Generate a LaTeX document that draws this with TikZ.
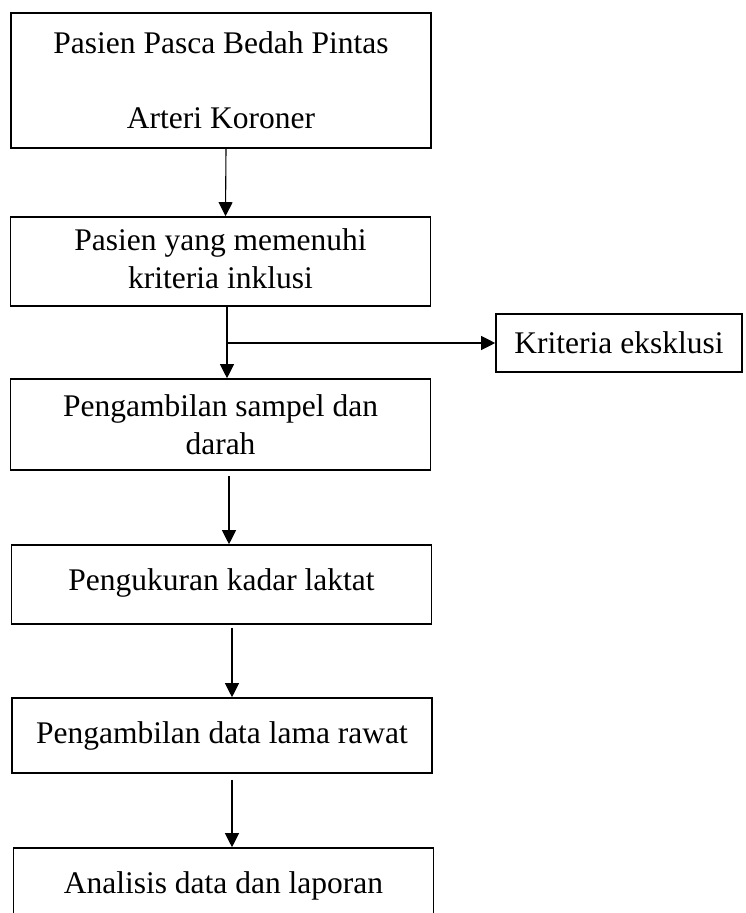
\documentclass[tikz,border=0pt]{standalone}
\usepackage{fontspec}
\setmainfont{Liberation Serif}
\usetikzlibrary{positioning,arrows.meta}

\begin{document}
\begin{tikzpicture}[
	x=1pt,y=-1pt,
	every node/.style={
		draw,
		line width=1.6pt,
		align=center,
		inner sep=0pt,
		font=\fontsize{31.5}{38}\selectfont
	},
	flowbox/.style={minimum width=420pt},
	arrow/.style={-{Triangle[length=14pt,width=14pt]},line width=1.1pt}
	]
	
	\useasboundingbox (0,0) rectangle (746,913);
	
	\node[flowbox,minimum height=135pt] (pasien) at (221,80.5) {Pasien Pasca Bedah Pintas\\[37pt]Arteri Koroner};
	\node[flowbox,minimum height=89pt] (inklusi) at (220.5,261.5) {\raisebox{-2pt}{\begin{tabular}{@{}c@{}}Pasien yang memenuhi\\kriteria inklusi\end{tabular}}};
	\node[minimum width=246pt,minimum height=58pt] (eksklusi) at (619,343) {Kriteria eksklusi};
	\node[flowbox,minimum height=91pt] (sampel) at (220.5,424.5) {Pengambilan sampel dan\\darah};
	\node[flowbox,minimum height=79pt] (laktat) at (221.5,584.5) {\raisebox{9.5pt}{Pengukuran kadar laktat}};
	\node[flowbox,minimum height=75pt] (rawat) at (222,735.5) {\raisebox{5.5pt}{Pengambilan data lama rawat}};
	\node[flowbox,minimum height=80pt] (analisis) at (223.5,888) {\raisebox{11pt}{Analisis data dan laporan}};
	
	\coordinate (cabang) at ([xshift=6.5pt]inklusi.south);
	
	\draw[arrow] ([xshift=5pt]pasien.south) -- ([xshift=5pt]inklusi.north);
	\draw[arrow] (cabang) -- (cabang |- sampel.north);
	\draw[arrow] (cabang |- eksklusi.west) -- (eksklusi.west);
	\draw[arrow,shorten <=5pt] ([xshift=8.5pt]sampel.south) -- ([xshift=7.5pt]laktat.north);
	\draw[arrow,shorten <=3pt] ([xshift=10.5pt]laktat.south) -- ([xshift=10pt]rawat.north);
	\draw[arrow,shorten <=6pt] ([xshift=10pt]rawat.south) -- ([xshift=8.5pt]analisis.north);
	
\end{tikzpicture}
\end{document}
